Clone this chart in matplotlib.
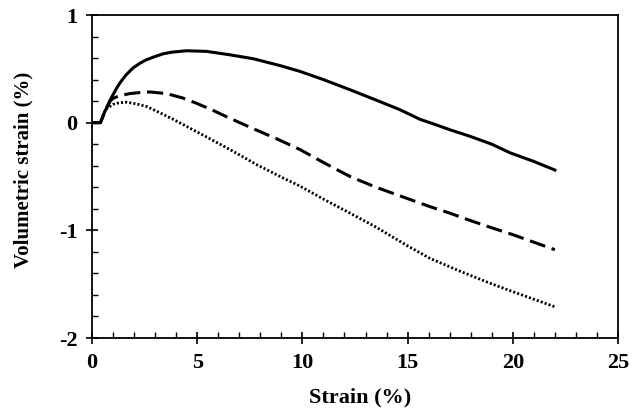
import matplotlib
matplotlib.use("Agg")
import matplotlib.pyplot as plt
from matplotlib.ticker import MultipleLocator

# Solid curve
x_solid = [0.1, 0.4, 0.5, 0.6, 0.7, 0.86, 1.0, 1.2, 1.33, 1.6, 1.96, 2.3, 2.6, 3.0, 3.39, 3.8, 4.5,
           5.45, 6.56, 7.66, 8.94, 9.89, 11.0, 12.26, 13.5, 14.64, 15.6, 16.06, 17.0, 17.97,
           19.0, 19.87, 21.0, 22.0]
y_solid = [0.0, 0.0, 0.05, 0.1, 0.14, 0.21, 0.26, 0.33, 0.37, 0.44, 0.51, 0.555, 0.585, 0.615,
           0.64, 0.655, 0.668, 0.662, 0.63, 0.594, 0.53, 0.476, 0.40, 0.306, 0.21, 0.12, 0.03,
           0.0, -0.065, -0.127, -0.20, -0.28, -0.36, -0.44]

# Dashed curve
x_dash = [0.1, 0.4, 0.5, 0.6, 0.7, 0.86, 1.0, 1.3, 1.8, 2.3, 2.76, 3.55, 4.3, 4.97, 5.8, 6.56,
          7.83, 8.78, 9.89, 11.0, 12.26, 13.5, 14.64, 16.06, 17.0, 18.0, 18.9, 20.0, 21.0, 22.0]
y_dash = [0.0, 0.0, 0.05, 0.1, 0.14, 0.2, 0.225, 0.25, 0.27, 0.28, 0.285, 0.27, 0.23, 0.18,
          0.11, 0.04, -0.07, -0.15, -0.25, -0.37, -0.5, -0.6, -0.68, -0.78, -0.84, -0.91,
          -0.97, -1.04, -1.11, -1.18]

# Dotted curve
x_dot = [0.1, 0.4, 0.5, 0.6, 0.7, 1.0, 1.3, 1.65, 2.1, 2.6, 3.2, 3.87, 5.13, 6.56, 7.83, 8.94,
         9.89, 11.0, 12.26, 13.5, 14.96, 16.06, 17.5, 18.9, 20.0, 21.0, 22.0]
y_dot = [0.0, 0.0, 0.05, 0.1, 0.13, 0.17, 0.185, 0.19, 0.175, 0.15, 0.095, 0.03, -0.1, -0.25,
         -0.39, -0.5, -0.59, -0.71, -0.84, -0.97, -1.14, -1.26, -1.38, -1.49, -1.57, -1.64,
         -1.71]

x_ticks = [0, 5, 10, 15, 20, 25]
y_ticks = [-2, -1, 0, 1]
x_label = "Strain (%)"
y_label = "Volumetric strain (%)"

plt.rcParams['font.family'] = ['Liberation Serif', 'DejaVu Serif']
plt.rcParams['font.weight'] = 'bold'

fig = plt.figure(figsize=(6.41, 4.08), dpi=100)
ax = fig.add_axes([92/641, 1 - 338/408, (618-92)/641, (338-15)/408])

ax.plot(x_solid, y_solid, color='black', lw=2.2, ls='-', solid_joinstyle='round')
ax.plot(x_dash, y_dash, color='black', lw=2.2, ls=(0, (5.3, 2.2)))
ax.plot(x_dot, y_dot, color='black', lw=2.0, ls=(0, (0.75, 0.75)))

ax.set_xlim(0, 25)
ax.set_ylim(-2, 1)
ax.set_xticks(x_ticks)
ax.set_yticks(y_ticks)
ax.set_xticklabels([str(v) for v in x_ticks])
ax.set_yticklabels([str(v) for v in y_ticks])
ax.xaxis.set_minor_locator(MultipleLocator(1))
ax.yaxis.set_minor_locator(MultipleLocator(0.2))
ax.tick_params(which='major', direction='inout', length=9, width=1.2, labelsize=16, pad=6)
ax.tick_params(which='minor', direction='in', length=4, width=1.0)
ax.tick_params(top=False, right=False, which='both')
for s in ax.spines.values():
    s.set_linewidth(1.3)

ax.set_xlabel(x_label, fontsize=16, fontweight='bold')
ax.set_ylabel(y_label, fontsize=15, fontweight='bold')
ax.xaxis.set_label_coords((360 - 92) / 526, -(402 - 338) / 323, transform=ax.transAxes)
ax.xaxis.label.set_va('baseline')
ax.yaxis.set_label_coords(-(92 - 23) / 526, (338 - 170) / 323, transform=ax.transAxes)
ax.yaxis.label.set_va('center')

fig.savefig("out.png", dpi=100)
